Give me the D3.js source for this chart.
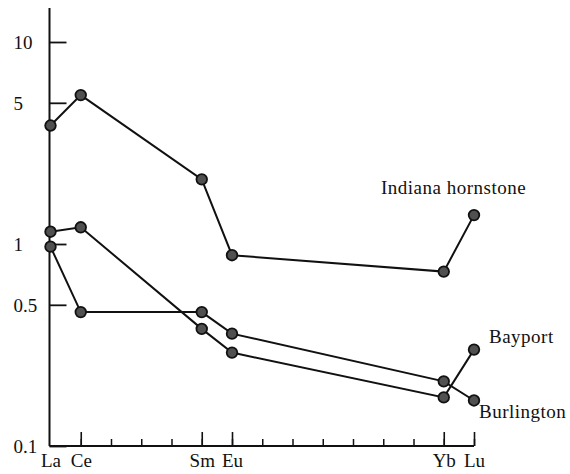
<!DOCTYPE html>
<html><head><meta charset="utf-8">
<script src="https://cdn.jsdelivr.net/npm/d3@7"></script>
<style>body{margin:0;background:#fff}svg{display:block}</style>
</head><body><svg id="c" width="570" height="474"></svg>
<script>
// REE atomic numbers: La=57 ... Lu=71
const elements = ["La","Ce","Sm","Eu","Yb","Lu"];
const atomicNumbers = [57,58,62,63,70,71];
const minorTicks = [58,59,60,61,62,63,64,65,66,67,68,69,70,71];
const yTicks = [0.1,0.5,1,5,10];
const yTickLabels = ["0.1","0.5","1","5","10"];
const seriesNames = ["Indiana hornstone","Bayport","Burlington"];
const indiana = [3.86,5.46,2.09,0.88,0.73,1.39];
const bayport = [1.15,1.21,0.38,0.29,0.174,0.30];
const burlington = [0.97,0.46,0.46,0.36,0.209,0.168];
const seriesValues = [indiana,bayport,burlington];

const FONT = "'Liberation Serif','Times New Roman',Times,serif";
const svg = d3.select("#c");
const x = d3.scaleLinear().domain([57,71]).range([50.5,474]);
const y = d3.scaleLog().domain([0.1,10]).range([446,42]);
const yTop = 8;

// y axis
const yAxis = d3.axisLeft(y).tickValues(yTicks).tickSizeInner(-17).tickSizeOuter(0)
  .tickFormat((d,i)=>yTickLabels[i]);
const gy = svg.append("g").attr("transform","translate(49.5,0)").call(yAxis);
gy.attr("font-family",null).attr("font-size",null);
gy.select(".domain").remove();
gy.selectAll(".tick line").attr("stroke","#111").attr("stroke-width",1.8);
gy.selectAll(".tick text").attr("x",-36).attr("text-anchor","start")
  .attr("dy","0.35em").style("font-family",FONT).style("font-size","19px").attr("fill","#111");
gy.append("line").attr("x1",0).attr("x2",0).attr("y1",yTop).attr("y2",y(0.1))
  .attr("stroke","#111").attr("stroke-width",2);

// x axis minor ticks
const gxm = svg.append("g").attr("transform",`translate(0,${y(0.1)})`)
  .call(d3.axisBottom(x).tickValues(minorTicks).tickSizeInner(-7).tickSizeOuter(0).tickFormat(""));
gxm.select(".domain").remove();
gxm.selectAll(".tick line").attr("stroke","#111").attr("stroke-width",1.5);
// x axis major ticks
const gx = svg.append("g").attr("transform",`translate(0,${y(0.1)})`)
  .call(d3.axisBottom(x).tickValues(atomicNumbers).tickSizeInner(-14).tickSizeOuter(0)
    .tickFormat((d,i)=>elements[i]));
gx.attr("font-family",null).attr("font-size",null);
gx.select(".domain").remove();
gx.selectAll(".tick line").attr("stroke","#111").attr("stroke-width",1.6)
  .filter(d=>d===57).remove();
gx.selectAll(".tick text").attr("y",21).attr("dy",0).style("font-family",FONT)
  .style("font-size","19px").attr("fill","#111");
gx.append("line").attr("x1",49.5).attr("x2",x(71)).attr("y1",0).attr("y2",0)
  .attr("stroke","#111").attr("stroke-width",2);

// series
const line = d3.line().x((d,i)=>x(atomicNumbers[i])).y(d=>y(d));
seriesValues.forEach(vals=>{
  svg.append("path").attr("d",line(vals)).attr("fill","none")
    .attr("stroke","#111").attr("stroke-width",2);
});
seriesValues.forEach(vals=>{
  svg.append("g").selectAll("circle").data(vals).join("circle")
    .attr("cx",(d,i)=>x(atomicNumbers[i])).attr("cy",d=>y(d)).attr("r",5.3)
    .attr("fill","#505050").attr("stroke","#111").attr("stroke-width",1.8);
});

// labels
const labelPos = [[381,194],[489,343],[479,418]];
seriesNames.forEach((n,i)=>{
  svg.append("text").attr("x",labelPos[i][0]).attr("y",labelPos[i][1])
    .style("font-family",FONT).style("font-size","19px").style("letter-spacing","0.5px")
    .attr("fill","#111").text(n);
});
</script></body></html>
